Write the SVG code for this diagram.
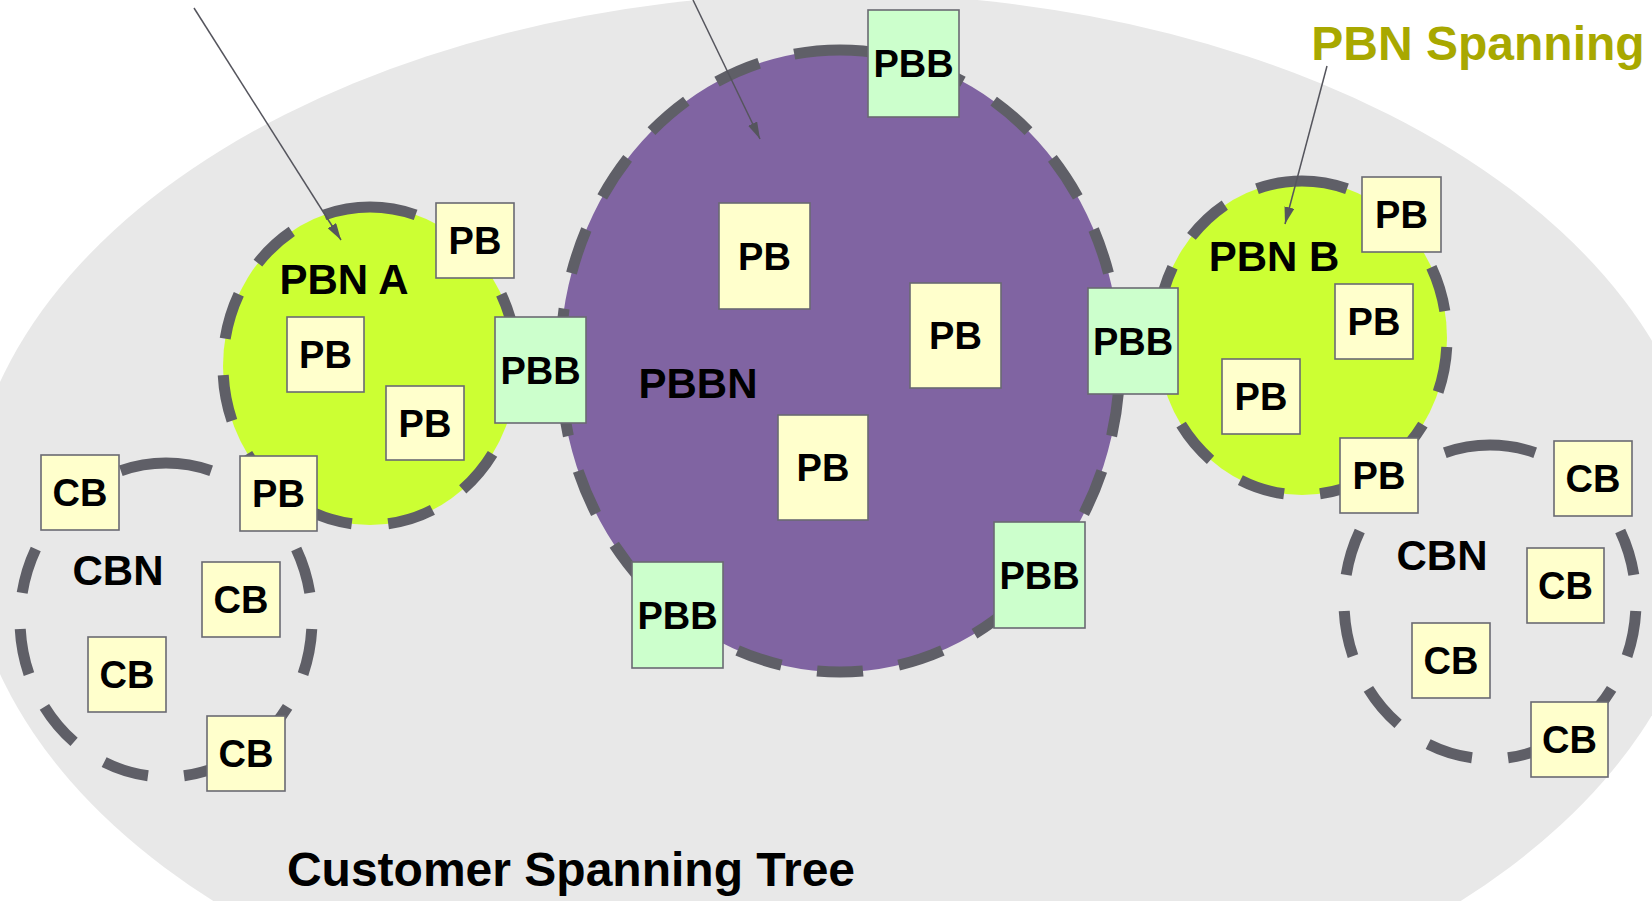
<svg xmlns="http://www.w3.org/2000/svg" width="1652" height="901" viewBox="0 0 1652 901">
  <style>
    text { font-family: "Liberation Sans", Arial, sans-serif; font-weight: bold; text-anchor: middle; fill: #000; }
    .ring { fill: none; stroke: #5f5f67; stroke-width: 11; stroke-dasharray: 47 37; }
    .pbbn { fill: #8064a2; }
    .pbn { fill: #ccff33; }
    .pb rect, .cb rect { fill: #ffffcc; stroke: #6a6a72; stroke-width: 1.6; }
    .pbb rect { fill: #ccffcc; stroke: #6a6a72; stroke-width: 1.6; }
    .box text { font-size: 38px; }
    .region { font-size: 42px; }
    .caption { font-size: 48px; }
    .pointer { stroke: #55555d; stroke-width: 1.5; fill: none; marker-end: url(#arrowhead); }
  </style>
  <defs>
    <marker id="arrowhead" markerUnits="userSpaceOnUse" markerWidth="18" markerHeight="10" refX="17" refY="5" orient="auto">
      <path d="M0,0 L17,5 L0,10 Z" fill="#55555d"/>
    </marker>
  </defs>

  <!-- customer spanning tree area -->
  <g id="customer-tree">
    <ellipse cx="837" cy="528" rx="870" ry="535" fill="#e8e8e8"/>
    <text class="caption" x="571" y="886">Customer Spanning Tree</text>
  </g>

  <!-- provider backbone bridged network -->
  <g id="pbbn">
    <path class="pbbn" d="M840,50 A280,311 0 0 1 840,672 A280,311 0 0 1 840,50 Z"/>
    <path class="ring" pathLength="1895" d="M840,50 A280,311 0 0 1 840,672 A280,311 0 0 1 840,50 Z"/>
    <text class="region" x="698" y="398">PBBN</text>
  </g>

  <g id="pbn-a">
    <path class="pbn" d="M370,207 A147,159 0 0 1 370,525 A147,159 0 0 1 370,207 Z"/>
    <path class="ring" pathLength="971" d="M370,207 A147,159 0 0 1 370,525 A147,159 0 0 1 370,207 Z"/>
    <text class="region" x="344" y="294">PBN A</text>
  </g>

  <g id="pbn-b">
    <path class="pbn" d="M1302,181 A145,157 0 0 1 1302,495 A145,157 0 0 1 1302,181 Z"/>
    <path class="ring" pathLength="971" d="M1302,181 A145,157 0 0 1 1302,495 A145,157 0 0 1 1302,181 Z"/>
    <text class="region" x="1274" y="271">PBN B</text>
  </g>

  <g id="cbn-left">
    <path class="ring" pathLength="971" d="M166,463 A146,157 0 0 1 166,777 A146,157 0 0 1 166,463 Z"/>
    <text class="region" x="118" y="585">CBN</text>
  </g>

  <g id="cbn-right">
    <path class="ring" pathLength="971" d="M1490,445 A146,157 0 0 1 1490,759 A146,157 0 0 1 1490,445 Z"/>
    <text class="region" x="1442" y="570">CBN</text>
  </g>

  <!-- bridges -->
  <g id="pbb-top" class="box pbb"><rect x="868" y="10" width="91" height="107"/><text x="913.5" y="77">PBB</text></g>
  <g id="pb-a1" class="box pb"><rect x="436" y="203" width="78" height="75"/><text x="475" y="254">PB</text></g>
  <g id="pb-a2" class="box pb"><rect x="287" y="317" width="77" height="75"/><text x="325.5" y="368">PB</text></g>
  <g id="pb-a3" class="box pb"><rect x="386" y="386" width="78" height="74"/><text x="425" y="437">PB</text></g>
  <g id="pbb-a" class="box pbb"><rect x="495" y="317" width="91" height="106"/><text x="540.5" y="384">PBB</text></g>
  <g id="pb-n1" class="box pb"><rect x="719" y="203" width="91" height="106"/><text x="764.5" y="270">PB</text></g>
  <g id="pb-n2" class="box pb"><rect x="910" y="283" width="91" height="105"/><text x="955.5" y="349">PB</text></g>
  <g id="pb-n3" class="box pb"><rect x="778" y="415" width="90" height="105"/><text x="823" y="481">PB</text></g>
  <g id="pbb-ll" class="box pbb"><rect x="632" y="562" width="91" height="106"/><text x="677.5" y="629">PBB</text></g>
  <g id="pbb-lr" class="box pbb"><rect x="994" y="522" width="91" height="106"/><text x="1039.5" y="589">PBB</text></g>
  <g id="pbb-b" class="box pbb"><rect x="1088" y="288" width="90" height="106"/><text x="1133" y="355">PBB</text></g>
  <g id="pb-b1" class="box pb"><rect x="1362" y="177" width="79" height="75"/><text x="1401.5" y="228">PB</text></g>
  <g id="pb-b2" class="box pb"><rect x="1335" y="284" width="78" height="75"/><text x="1374" y="335">PB</text></g>
  <g id="pb-b3" class="box pb"><rect x="1222" y="359" width="78" height="75"/><text x="1261" y="410">PB</text></g>
  <g id="pb-b4" class="box pb"><rect x="1340" y="438" width="78" height="75"/><text x="1379" y="489">PB</text></g>
  <g id="cb-r1" class="box cb"><rect x="1554" y="441" width="78" height="75"/><text x="1593" y="492">CB</text></g>
  <g id="cb-r2" class="box cb"><rect x="1527" y="548" width="77" height="75"/><text x="1565.5" y="599">CB</text></g>
  <g id="cb-r3" class="box cb"><rect x="1412" y="623" width="78" height="75"/><text x="1451" y="674">CB</text></g>
  <g id="cb-r4" class="box cb"><rect x="1531" y="702" width="77" height="75"/><text x="1569.5" y="753">CB</text></g>
  <g id="cb-l1" class="box cb"><rect x="41" y="455" width="78" height="75"/><text x="80" y="506">CB</text></g>
  <g id="pb-l" class="box pb"><rect x="240" y="456" width="77" height="75"/><text x="278.5" y="507">PB</text></g>
  <g id="cb-l2" class="box cb"><rect x="202" y="562" width="78" height="75"/><text x="241" y="613">CB</text></g>
  <g id="cb-l3" class="box cb"><rect x="88" y="637" width="78" height="75"/><text x="127" y="688">CB</text></g>
  <g id="cb-l4" class="box cb"><rect x="207" y="716" width="78" height="75"/><text x="246" y="767">CB</text></g>

  <g id="pbn-spanning-label">
    <text class="caption" x="1478" y="60" style="fill:#a8a800">PBN Spanning</text>
  </g>

  <!-- pointers -->
  <g id="connectors">
    <line class="pointer" x1="194" y1="8" x2="341" y2="240"/>
    <line class="pointer" x1="693" y1="0" x2="760" y2="139"/>
    <line class="pointer" x1="1327" y1="66" x2="1285" y2="224"/>
  </g>
</svg>
